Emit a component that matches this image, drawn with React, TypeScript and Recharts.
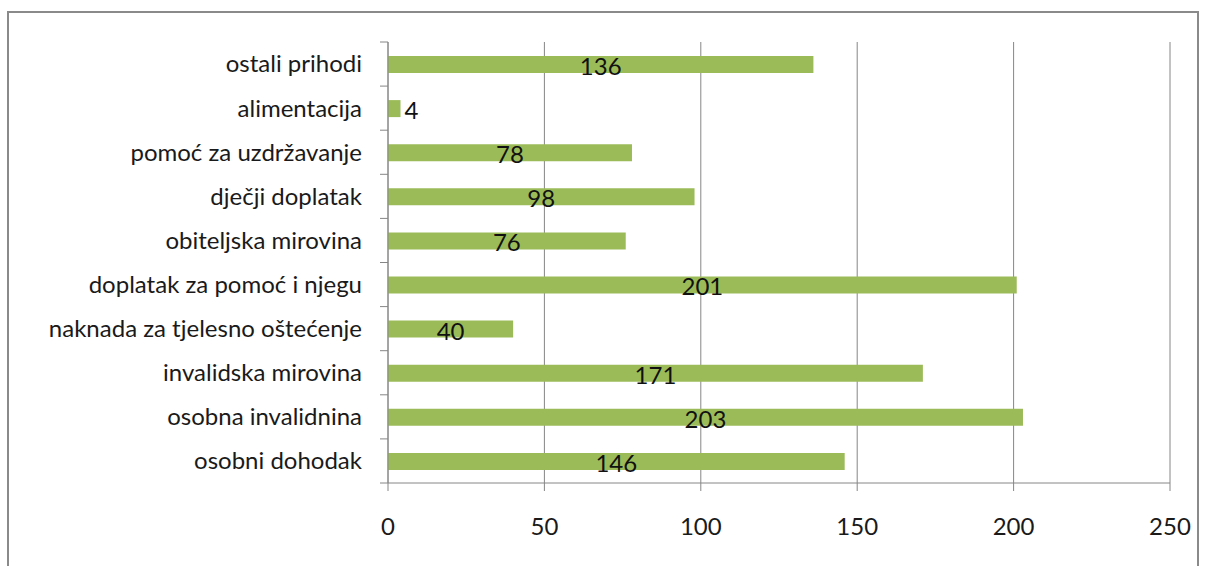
import { Bar, BarChart, CartesianGrid, LabelList, XAxis, YAxis } from "recharts";

const categories = [
  "ostali prihodi",
  "alimentacija",
  "pomoć za uzdržavanje",
  "dječji doplatak",
  "obiteljska mirovina",
  "doplatak za pomoć i njegu",
  "naknada za tjelesno oštećenje",
  "invalidska mirovina",
  "osobna invalidnina",
  "osobni dohodak",
];
const values = [136, 4, 78, 98, 76, 201, 40, 171, 203, 146];
const xTicks = [0, 50, 100, 150, 200, 250];

const data = categories.map((name, i) => ({ name, value: values[i] }));

const W = 1208;
const H = 566;
const xAxisHeight = 30;
const margin = { top: 42, right: 38, bottom: 83 - xAxisHeight, left: 0 };
const band = (H - 42 - 83) / categories.length;
const font = "Lato, 'Open Sans', sans-serif";
const axisColor = "#868686";

function CategoryTick(props: any) {
  const { x, y, payload, index } = props;
  const last = index === categories.length - 1;
  return (
    <g>
      <line x1={x} x2={x + 8} y1={y - band / 2} y2={y - band / 2} stroke={axisColor} />
      {last && <line x1={x} x2={x + 8} y1={y + band / 2} y2={y + band / 2} stroke={axisColor} />}
      <text x={x - 18} y={y} dy="0.35em" textAnchor="end" fill="#1a1a1a" fontSize={24} fontFamily={font}>
        {payload.value}
      </text>
    </g>
  );
}

function ValueLabel(props: any) {
  const { x, y, width, height, value } = props;
  const small = width < 30;
  return (
    <text
      x={small ? x + width + 4 : x + width / 2}
      y={y + height / 2 + 2}
      dy="0.35em"
      textAnchor={small ? "start" : "middle"}
      fill="#111"
      fontSize={24}
      fontFamily={font}
    >
      {value}
    </text>
  );
}

export default function App() {
  return (
    <div style={{ position: "absolute", left: 0, top: 0, width: W, height: H, background: "#fff", overflow: "hidden" }}>
      <div
        style={{
          position: "absolute",
          left: 7,
          top: 11,
          width: 1192,
          height: 600,
          border: "2px solid #8a8a8a",
          boxSizing: "border-box",
        }}
      />
      <div style={{ position: "absolute", left: 0, top: 0 }}>
        <BarChart width={W} height={H} data={data} layout="vertical" margin={margin} barCategoryGap={0}>
          <CartesianGrid horizontal={false} stroke={axisColor} />
          <XAxis
            type="number"
            domain={[0, 250]}
            ticks={xTicks}
            height={xAxisHeight}
            stroke={axisColor}
            tickSize={8}
            tickMargin={27}
            tick={{ fill: "#1a1a1a", fontSize: 24, fontFamily: font }}
          />
          <YAxis
            type="category"
            dataKey="name"
            width={388}
            stroke={axisColor}
            tickLine={false}
            tick={<CategoryTick />}
            interval={0}
          />
          <Bar dataKey="value" fill="#9BBB59" barSize={17} isAnimationActive={false}>
            <LabelList dataKey="value" content={<ValueLabel />} />
          </Bar>
        </BarChart>
      </div>
    </div>
  );
}
